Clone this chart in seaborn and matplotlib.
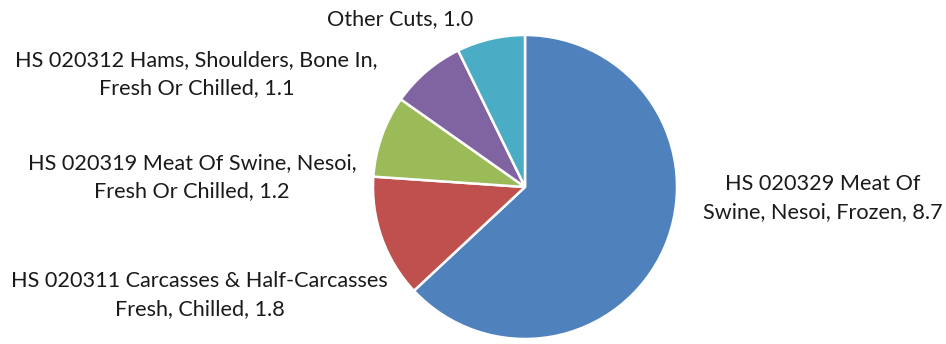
import matplotlib
matplotlib.use("Agg")
import matplotlib.pyplot as plt
import seaborn as sns

# Data
names = [
    "HS 020329 Meat Of\nSwine, Nesoi, Frozen",
    "HS 020311 Carcasses & Half-Carcasses\nFresh, Chilled",
    "HS 020319 Meat Of Swine, Nesoi,\nFresh Or Chilled",
    "HS 020312 Hams, Shoulders, Bone In,\nFresh Or Chilled",
    "Other Cuts",
]
values = [8.7, 1.8, 1.2, 1.1, 1.0]
colors = ["#4F81BD", "#C0504D", "#9BBB59", "#8064A2", "#4BACC6"]

# Layout: label centre positions (in pie-radius units)
label_pos = [(1.96, -0.07), (-2.14, -0.71), (-2.19, 0.066), (-2.16, 0.74), (-0.82, 1.105)]

sns.set_theme(style="white")
plt.rcParams["font.family"] = ["Lato", "DejaVu Sans"]

W, H = 946, 344
dpi = 100
fig = plt.figure(figsize=(W / dpi, H / dpi), dpi=dpi)
cx, cy, R = 525, 187, 152
ax = fig.add_axes([(cx - R) / W, (H - cy - R) / H, 2 * R / W, 2 * R / H])

ax.pie(values, colors=colors, startangle=90, counterclock=False, radius=1,
       wedgeprops=dict(edgecolor="white", linewidth=1.8))
ax.set_xlim(-1, 1)
ax.set_ylim(-1, 1)
ax.set_aspect("equal")
ax.axis("off")

for name, val, (x, y) in zip(names, values, label_pos):
    lines = name.split("\n")
    lines[-1] = f"{lines[-1]}, {val:.1f}"
    ax.text(x, y, "\n".join(lines), ha="center", va="center", multialignment="center",
            fontsize=15.6, color="#1a1a1a", linespacing=1.5, clip_on=False)

fig.savefig("out.png", dpi=dpi, facecolor="white")
